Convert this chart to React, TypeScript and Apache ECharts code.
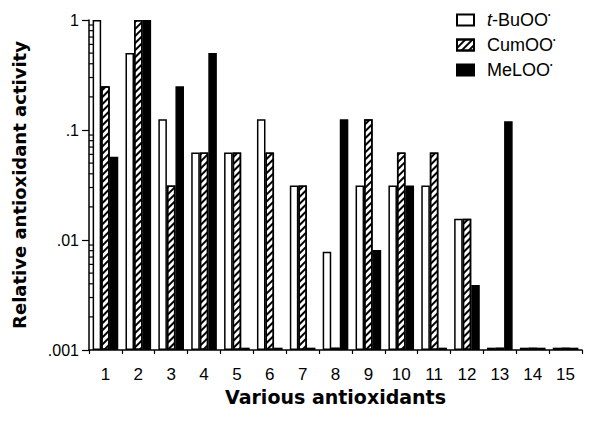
import React, { useEffect, useRef } from "react";
import * as echarts from "echarts";

const categories = ["1", "2", "3", "4", "5", "6", "7", "8", "9", "10", "11", "12", "13", "14", "15"];
const seriesNames = ["t-BuOO", "CumOO", "MeLOO"];
const tBuValues = [1, 0.5, 0.125, 0.0625, 0.0625, 0.125, 0.03125, 0.0078, 0.03125, 0.03125, 0.03125, 0.0156, 0.00105, 0.00105, 0.00105];
const cumValues = [0.25, 1, 0.03125, 0.0625, 0.0625, 0.0625, 0.03125, 0.00105, 0.125, 0.0625, 0.0625, 0.0156, 0.00105, 0.00105, 0.00105];
const meValues = [0.057, 1, 0.25, 0.5, 0.00105, 0.00105, 0.00105, 0.125, 0.0081, 0.03125, 0.00105, 0.0039, 0.12, 0.00105, 0.00105];
const yTickLabels: Record<string, string> = { "1": "1", "0.1": ".1", "0.01": ".01", "0.001": ".001" };
const minorTickValues = [
  0.002, 0.003, 0.004, 0.005, 0.006, 0.007, 0.008, 0.009,
  0.02, 0.03, 0.04, 0.05, 0.06, 0.07, 0.08, 0.09,
  0.2, 0.3, 0.4, 0.5, 0.6, 0.7, 0.8, 0.9,
];

const FONT = "Liberation Sans, Arial, sans-serif";
const BOLD_FONT = "DejaVu Sans, sans-serif";

export default function App() {
  const ref = useRef<HTMLDivElement>(null);
  useEffect(() => {
    document.body.style.margin = "0";
    if (!ref.current) return;
    const chart = echarts.init(ref.current, undefined, { renderer: "svg" });
    const border = { borderColor: "#000", borderWidth: 1.5 };
    chart.setOption({
      animation: false,
      backgroundColor: "#fff",
      grid: { left: 89, right: 8, top: 20, bottom: 75 },
      legend: {
        data: seriesNames,
        orient: "vertical",
        left: 451,
        top: 6,
        itemWidth: 17,
        itemHeight: 11,
        itemGap: 7,
        icon: "rect",
        selectedMode: false,
        formatter: (name: string) =>
          name === "t-BuOO" ? "{it|t}{n|-BuOO}{sup|•}" : `{n|${name}}{sup|•}`,
        textStyle: {
          fontFamily: FONT,
          fontSize: 18,
          color: "#000",
          padding: [0, 0, 0, 8],
          rich: {
            it: { fontFamily: FONT, fontSize: 18, fontStyle: "italic", color: "#000", lineHeight: 18 },
            n: { fontFamily: FONT, fontSize: 18, color: "#000", lineHeight: 18 },
            sup: { fontFamily: FONT, fontSize: 7, color: "#000", verticalAlign: "top", lineHeight: 10 },
          },
        },
      },
      xAxis: {
        type: "category",
        data: categories,
        name: "Various antioxidants",
        nameLocation: "middle",
        nameGap: 36,
        nameTextStyle: { fontFamily: BOLD_FONT, fontWeight: "bold", fontSize: 19, color: "#000" },
        axisLine: { lineStyle: { color: "#000", width: 1.5 } },
        axisTick: { show: true, interval: 0, length: 4, lineStyle: { color: "#000", width: 1.2 } },
        axisLabel: { interval: 0, margin: 16, fontFamily: FONT, fontSize: 17, color: "#000" },
      },
      yAxis: {
        type: "log",
        logBase: 10,
        min: 0.001,
        max: 1,
        startValue: 0.001,
        name: "Relative antioxidant activity",
        nameLocation: "middle",
        nameGap: 61,
        nameTextStyle: { fontFamily: BOLD_FONT, fontWeight: "bold", fontSize: 18, color: "#000" },
        splitLine: { show: false },
        axisLine: { show: true, lineStyle: { color: "#000", width: 1.5 } },
        axisTick: { show: true, length: 7, lineStyle: { color: "#000", width: 1.2 } },
        axisLabel: {
          margin: 10,
          fontFamily: FONT,
          fontSize: 16,
          color: "#000",
          formatter: (v: number) => {
            const key = String(Number(v.toPrecision(3)));
            return yTickLabels[key] ?? "";
          },
        },
      },
      series: [
        {
          name: seriesNames[0],
          type: "bar",
          data: tBuValues,
          barGap: "0%",
          barCategoryGap: "22%",
          itemStyle: { color: "#fff", ...border },
        },
        {
          name: seriesNames[1],
          type: "bar",
          data: cumValues,
          barGap: "0%",
          barCategoryGap: "22%",
          itemStyle: {
            color: "#fff",
            ...border,
            decal: {
              symbol: "rect",
              symbolSize: 1,
              color: "#000",
              backgroundColor: "#fff",
              dashArrayX: [1, 0],
              dashArrayY: [2, 2.5],
              rotation: -Math.PI / 4,
            },
          },
        },
        {
          name: seriesNames[2],
          type: "bar",
          data: meValues,
          barGap: "0%",
          barCategoryGap: "22%",
          itemStyle: { color: "#000", ...border },
        },
        {
          type: "custom",
          silent: true,
          z: 5,
          data: minorTickValues.map((v) => [0, v]),
          renderItem: (params: any, api: any) => {
            const p = api.coord([0, api.value(1)]);
            const x = params.coordSys.x;
            return {
              type: "line",
              shape: { x1: x, y1: p[1], x2: x + 5, y2: p[1] },
              style: { stroke: "#000", lineWidth: 1.2 },
            };
          },
        },
      ],
    });
    return () => chart.dispose();
  }, []);
  return <div ref={ref} style={{ width: 590, height: 425 }} />;
}
